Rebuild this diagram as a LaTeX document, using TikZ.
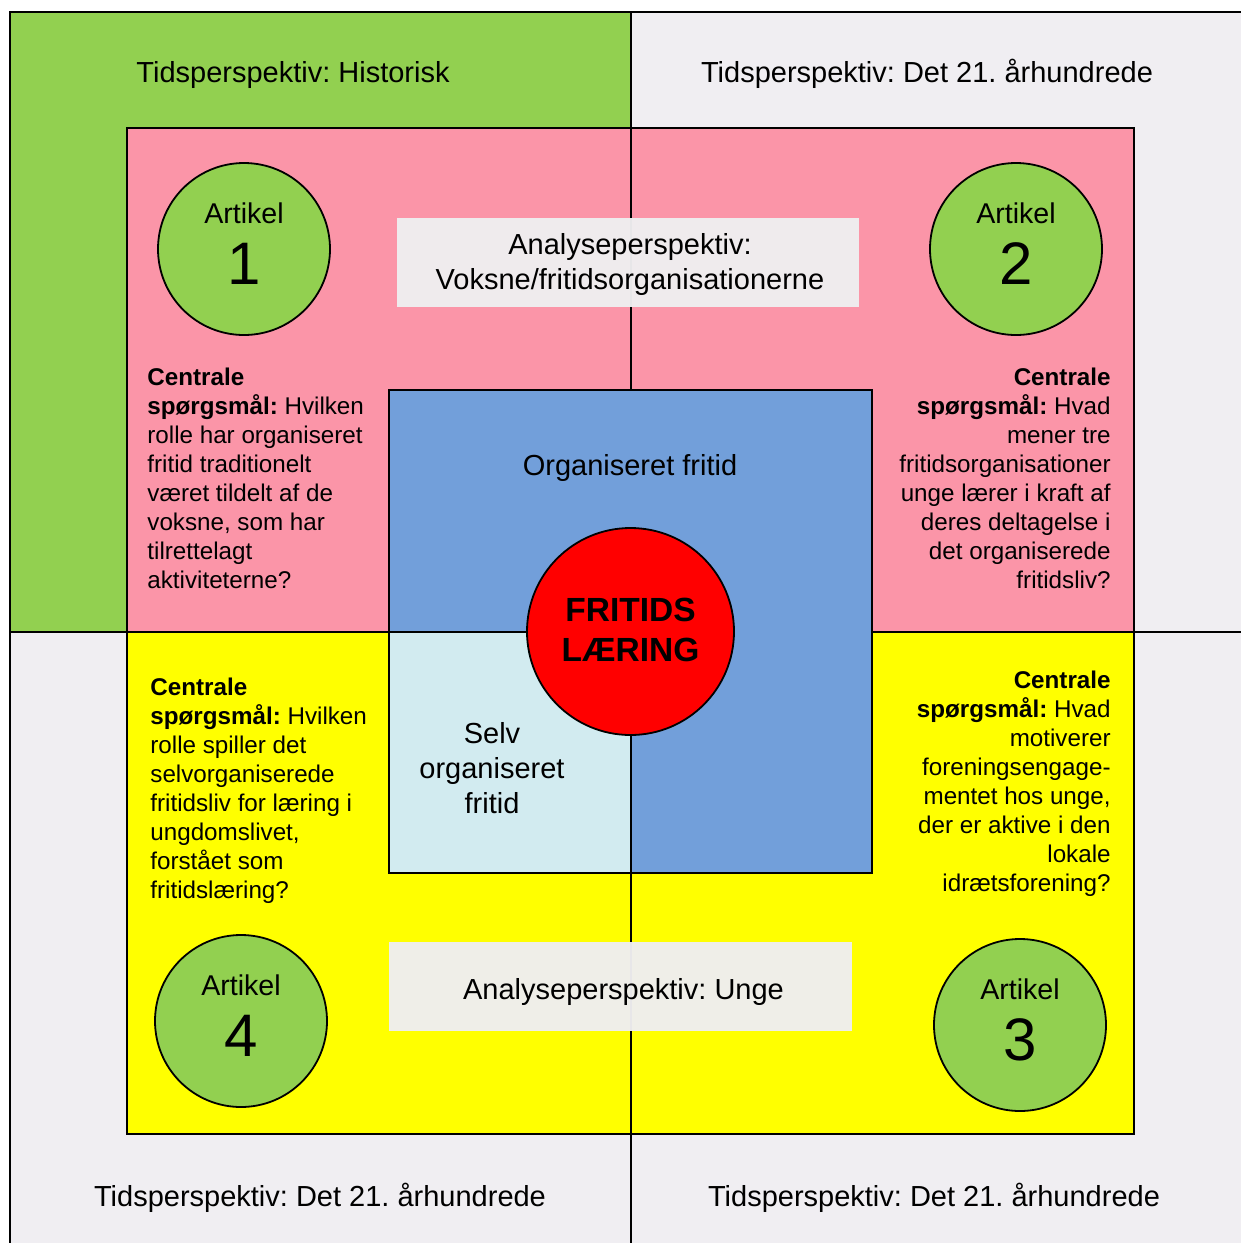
\documentclass[tikz,border=0pt]{standalone}
\usepackage{fontspec}
\setmainfont{Liberation Sans}
\frenchspacing
\definecolor{cgreen}{HTML}{92D050}
\definecolor{cgray}{HTML}{F0EEF2}
\definecolor{cpink}{HTML}{FB95A8}
\definecolor{cyellow}{HTML}{FFFF00}
\definecolor{cblue}{HTML}{729FDA}
\definecolor{clblue}{HTML}{D2EBF0}
\definecolor{cred}{HTML}{FF0000}
\definecolor{cbox}{HTML}{EFEEF0}
\tikzset{
  frame/.style={draw=black, line width=0.9pt},
  bodytxt/.style={font=\fontsize{12.1}{14.5}\selectfont, inner sep=0pt},
  titletxt/.style={font=\fontsize{14.5}{17.5}\selectfont, inner sep=0pt},
  artc/.style={circle, draw=black, line width=0.9pt, fill=cgreen, minimum size=86pt, inner sep=0pt},
  arttxt/.style={font=\fontsize{14.3}{17}\selectfont, inner sep=0pt},
  artnum/.style={font=\fontsize{30}{36}\selectfont, inner sep=0pt},
  anabox/.style={fill=cbox, fill opacity=0.97},
}
\begin{document}
\begin{tikzpicture}[x=0.5pt,y=-0.5pt]
\useasboundingbox (0,0) rectangle (1241,1243);
\clip (0,0) rectangle (1241,1243);
% outer quadrants
\filldraw[frame, fill=cgreen] (10,12) rectangle (631,632);
\filldraw[frame, fill=cgray] (631,12) rectangle (1260,632);
\filldraw[frame, fill=cgray] (10,632) rectangle (631,1260);
\filldraw[frame, fill=cgray] (631,632) rectangle (1260,1260);
% pink and yellow halves
\filldraw[frame, fill=cpink] (127,128) rectangle (631,632);
\filldraw[frame, fill=cpink] (631,128) rectangle (1134,632);
\filldraw[frame, fill=cyellow] (127,632) rectangle (631,1134);
\filldraw[frame, fill=cyellow] (631,632) rectangle (1134,1134);
% blue square and light blue
\filldraw[frame, fill=cblue] (389,390) rectangle (872,873);
\filldraw[frame, fill=clblue] (389,632) rectangle (631,873);
% red circle
\node[circle, draw=black, line width=0.9pt, fill=cred, minimum size=103.5pt, inner sep=0pt] (core) at (630.5,631.5) {};
\node[font=\fontsize{16.75}{20}\selectfont\bfseries, inner sep=0pt, anchor=base, align=center] (coret) at (630.5,661) {FRITIDS\\LÆRING};
% analyse boxes
\fill[anabox] (397,218) rectangle (859,307);
\fill[anabox] (389,942) rectangle (852,1031);
\node[titletxt, anchor=base, align=center] (ana1) at (630,289.5) {Analyseperspektiv:\\Voksne/fritidsorganisationerne};
\node[titletxt, anchor=base] (ana2) at (623.5,999) {Analyseperspektiv: Unge};
% titles
\node[titletxt, anchor=base] (t1) at (293,82) {Tidsperspektiv: Historisk};
\node[titletxt, anchor=base] (t2) at (927,82) {Tidsperspektiv: Det 21. århundrede};
\node[titletxt, anchor=base] (t3) at (320,1206) {Tidsperspektiv: Det 21. århundrede};
\node[titletxt, anchor=base] (t4) at (934,1206) {Tidsperspektiv: Det 21. århundrede};
% centre labels
\node[titletxt, anchor=base] (org) at (630,475) {Organiseret fritid};
\node[titletxt, anchor=base, align=center] (selv) at (492,813) {Selv\\organiseret\\fritid};
% article circles
\node[artc] (a1) at (244,249) {};
\node[arttxt, anchor=base] (a1t) at (244,223) {Artikel};
\node[artnum, anchor=base] (a1n) at (244,284) {1};
\node[artc] (a2) at (1016,249) {};
\node[arttxt, anchor=base] (a2t) at (1016,223) {Artikel};
\node[artnum, anchor=base] (a2n) at (1016,284) {2};
\node[artc] (a3) at (1020,1025) {};
\node[arttxt, anchor=base] (a3t) at (1020,999) {Artikel};
\node[artnum, anchor=base] (a3n) at (1020,1060) {3};
\node[artc] (a4) at (241,1021) {};
\node[arttxt, anchor=base] (a4t) at (241,995) {Artikel};
\node[artnum, anchor=base] (a4n) at (241,1056) {4};
% central questions
\node[bodytxt, anchor=base west, align=left] (q1) at (147,588) {\textbf{Centrale}\\\textbf{spørgsmål:} Hvilken\\rolle har organiseret\\fritid traditionelt\\været tildelt af de\\voksne, som har\\tilrettelagt\\aktiviteterne?};
\node[bodytxt, anchor=base east, align=right] (q2) at (1111,588) {\textbf{Centrale}\\\textbf{spørgsmål:} Hvad\\mener tre\\fritidsorganisationer\\unge lærer i kraft af\\deres deltagelse i\\det organiserede\\fritidsliv?};
\node[bodytxt, anchor=base east, align=right] (q3) at (1111,891) {\textbf{Centrale}\\\textbf{spørgsmål:} Hvad\\motiverer\\foreningsengage-\\mentet hos unge,\\der er aktive i den\\lokale\\idrætsforening?};
\node[bodytxt, anchor=base west, align=left] (q4) at (150,898) {\textbf{Centrale}\\\textbf{spørgsmål:} Hvilken\\rolle spiller det\\selvorganiserede\\fritidsliv for læring i\\ungdomslivet,\\forstået som\\fritidslæring?};
\end{tikzpicture}
\end{document}
